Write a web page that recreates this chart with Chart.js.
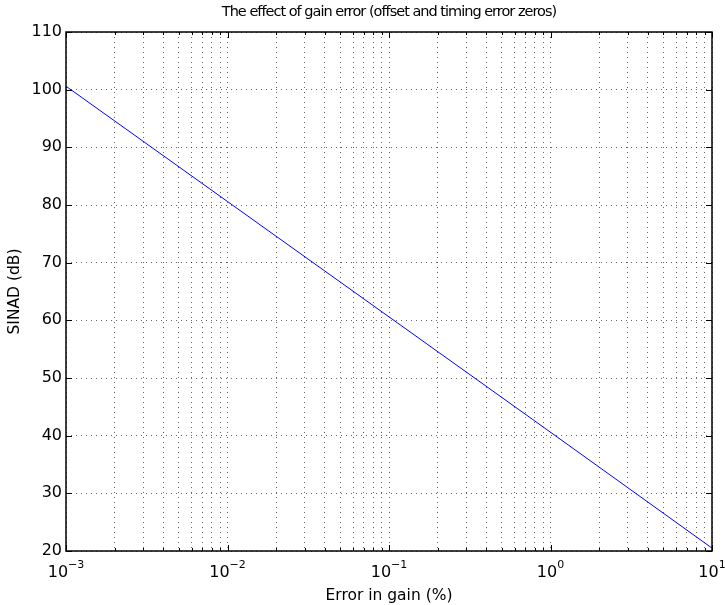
<!DOCTYPE html>
<html>
<head>
<meta charset="utf-8">
<script src="https://cdn.jsdelivr.net/npm/chart.js@4/dist/chart.umd.min.js"></script>
<style>
  html, body { margin: 0; padding: 0; background: #fff; }
  #wrap { width: 725px; height: 605px; }
</style>
</head>
<body>
<div id="wrap"><canvas id="chart" width="725" height="605"></canvas></div>
<script>
// datos
const gainError = [0.001, 0.01, 0.1, 1, 10];
const sinad = [100.6, 80.6, 60.6, 40.6, 20.5];
const xMajorTicks = [0.001, 0.01, 0.1, 1, 10];
const xExponents = ['-3', '-2', '-1', '0', '1'];
const yTicks = [20, 30, 40, 50, 60, 70, 80, 90, 100, 110];

const FONT = "'DejaVu Sans', sans-serif";

// ticks menores 2..9 de cada decada
function allLogTicks() {
  const out = [];
  for (let e = -3; e < 1; e++) {
    for (let m = 1; m < 10; m++) out.push(m * Math.pow(10, e));
  }
  out.push(10);
  return out;
}

// marco, ticks hacia dentro, titulo y etiquetas 10^n
const extras = {
  id: 'extras',
  afterDraw(chart) {
    const ctx = chart.ctx;
    const a = chart.chartArea;
    const xs = chart.scales.x, ys = chart.scales.y;
    ctx.save();
    ctx.strokeStyle = '#000';
    ctx.lineWidth = 1;
    ctx.setLineDash([]);
    // ticks eje x (abajo y arriba)
    allLogTicks().forEach(v => {
      const px = Math.round(xs.getPixelForValue(v)) + 0.5;
      const major = xMajorTicks.includes(v);
      const len = major ? 6 : 3;
      ctx.beginPath();
      ctx.moveTo(px, a.bottom); ctx.lineTo(px, a.bottom - len);
      ctx.moveTo(px, a.top); ctx.lineTo(px, a.top + len);
      ctx.stroke();
    });
    // ticks eje y
    yTicks.forEach(v => {
      const py = Math.round(ys.getPixelForValue(v)) + 0.5;
      ctx.beginPath();
      ctx.moveTo(a.left, py); ctx.lineTo(a.left + 6, py);
      ctx.moveTo(a.right, py); ctx.lineTo(a.right - 6, py);
      ctx.stroke();
    });
    // marco
    ctx.lineWidth = 1.5;
    ctx.strokeRect(a.left, a.top, a.right - a.left, a.bottom - a.top);

    // etiquetas del eje x con exponente
    ctx.fillStyle = '#000';
    ctx.textBaseline = 'alphabetic';
    xMajorTicks.forEach((v, i) => {
      const px = xs.getPixelForValue(v);
      ctx.font = '16px ' + FONT;
      const wBase = ctx.measureText('10').width;
      ctx.font = '11px ' + FONT;
      const exp = xExponents[i].replace('-', '\u2212');
      const wExp = ctx.measureText(exp).width;
      const x0 = px - (wBase + wExp) / 2;
      ctx.font = '16px ' + FONT;
      ctx.textAlign = 'left';
      ctx.fillText('10', x0, 577);
      ctx.font = '11px ' + FONT;
      ctx.fillText(exp, x0 + wBase, 568);
    });

    // titulo centrado sobre los ejes
    ctx.font = '14.5px ' + FONT;
    ctx.letterSpacing = '-1px';
    ctx.textAlign = 'center';
    ctx.textBaseline = 'middle';
    ctx.fillText('The effect of gain error (offset and timing error zeros)', (a.left + a.right) / 2, 12);
    ctx.restore();
  }
};

new Chart(document.getElementById('chart'), {
  type: 'line',
  data: {
    datasets: [{
      data: gainError.map((x, i) => ({ x: x, y: sinad[i] })),
      borderColor: '#0000ff',
      borderWidth: 1,
      pointRadius: 0,
      fill: false,
      tension: 0
    }]
  },
  options: {
    responsive: false,
    animation: false,
    layout: { padding: { top: 32, right: 13, left: 0, bottom: 0 } },
    plugins: {
      legend: { display: false },
      title: { display: false },
      tooltip: { enabled: false }
    },
    scales: {
      x: {
        type: 'logarithmic',
        min: 0.001,
        max: 10,
        afterBuildTicks: s => { s.ticks = allLogTicks().map(v => ({ value: v })); },
        afterFit: s => { s.height = 54; },
        ticks: { display: false },
        grid: {
          color: 'rgba(0,0,0,0.6)',
          lineWidth: 1,
          drawTicks: false
        },
        border: { display: false, dash: [1, 4] },
        title: {
          display: true,
          text: 'Error in gain (%)',
          color: '#000',
          font: { family: FONT, size: 15.5 },
          padding: { top: 3.5, bottom: 0 }
        }
      },
      y: {
        min: 20,
        max: 110,
        afterBuildTicks: s => { s.ticks = yTicks.map(v => ({ value: v })); },
        afterFit: s => { s.width = 66; },
        ticks: {
          color: '#000',
          font: { family: FONT, size: 16 },
          padding: 4
        },
        grid: {
          color: 'rgba(0,0,0,0.6)',
          lineWidth: 1,
          drawTicks: false
        },
        border: { display: false, dash: [1, 4] },
        title: {
          display: true,
          text: 'SINAD (dB)',
          color: '#000',
          font: { family: FONT, size: 15.5 },
          padding: { top: 5.5, bottom: 0 }
        }
      }
    }
  },
  plugins: [extras]
});
</script>
</body>
</html>
